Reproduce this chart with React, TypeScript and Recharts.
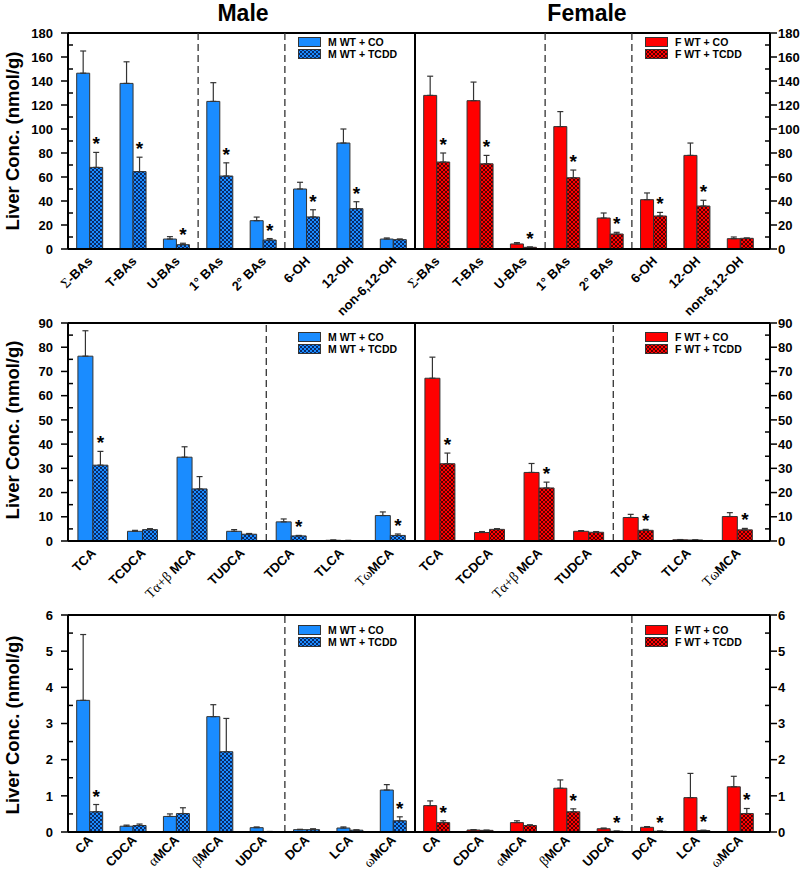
import React from 'react';
import { createPortal } from 'react-dom';
import { BarChart, Bar, XAxis, YAxis, ErrorBar, ReferenceLine, LabelList, Legend } from 'recharts';

const FONT = '"Liberation Sans", Arial, Helvetica, sans-serif';
const SERIF = '"Liberation Serif", "Times New Roman", serif';
const BLUE = '#1a8cff';
const BLUE_DARK = '#0a2a66';
const RED = '#ff0000';
const RED_DARK = '#560000';

// ---------- Row 1: bile acid groups ----------
const cats1 = ['Σ-BAs', 'T-BAs', 'U-BAs', '1° BAs', '2° BAs', '6-OH', '12-OH', 'non-6,12-OH'];
const maleCO1 = [146.5, 138, 8.3, 123, 23.6, 50, 88.3, 8.3];
const maleCOErr1 = [18.5, 18, 2, 15.6, 3, 5.6, 11.7, 0.9];
const maleTCDD1 = [68, 64.5, 3.6, 60.8, 7.5, 26.7, 33.6, 7.8];
const maleTCDDErr1 = [12.5, 12, 1.2, 11, 1.2, 6, 5.8, 0.6];
const maleSig1 = [1, 1, 1, 1, 1, 1, 1, 0];
const femaleCO1 = [128, 123.6, 4.2, 102, 25.8, 41.1, 78, 8.6];
const femaleCOErr1 = [16, 15.5, 1.1, 12.5, 4.2, 5.6, 10.3, 1.4];
const femaleTCDD1 = [72.5, 71, 1.4, 59.4, 12.5, 27.5, 35.8, 8.9];
const femaleTCDDErr1 = [7.5, 7, 0.3, 6.4, 1.4, 3, 4.8, 0.3];
const femaleSig1 = [1, 1, 1, 1, 1, 1, 1, 0];

// ---------- Row 2: taurine conjugates ----------
const cats2 = ['TCA', 'TCDCA', 'Tα+β MCA', 'TUDCA', 'TDCA', 'TLCA', 'TωMCA'];
const maleCO2 = [76.3, 4.0, 34.6, 4.0, 7.9, 0.3, 10.5];
const maleCOErr2 = [10.5, 0.4, 4.3, 0.7, 1.2, 0.1, 1.5];
const maleTCDD2 = [31.3, 4.7, 21.5, 2.8, 2.1, 0.2, 2.3];
const maleTCDDErr2 = [5.7, 0.4, 5.1, 0.3, 0.2, 0.05, 0.6];
const maleSig2 = [1, 0, 0, 0, 1, 0, 1];
const femaleCO2 = [67.2, 3.5, 28.3, 4.0, 9.7, 0.5, 10.1];
const femaleCOErr2 = [8.7, 0.4, 3.7, 0.3, 1.3, 0.1, 1.6];
const femaleTCDD2 = [31.9, 4.8, 21.9, 3.6, 4.4, 0.4, 4.6];
const femaleTCDDErr2 = [4.4, 0.3, 2.4, 0.3, 0.4, 0.05, 0.6];
const femaleSig2 = [1, 0, 1, 0, 1, 0, 1];

// ---------- Row 3: unconjugated ----------
const cats3 = ['CA', 'CDCA', 'αMCA', 'βMCA', 'UDCA', 'DCA', 'LCA', 'ωMCA'];
const maleCO3 = [3.64, 0.16, 0.43, 3.19, 0.12, 0.065, 0.11, 1.16];
const maleCOErr3 = [1.82, 0.03, 0.07, 0.33, 0.02, 0.01, 0.03, 0.15];
const maleTCDD3 = [0.56, 0.18, 0.51, 2.22, 0.01, 0.065, 0.05, 0.31];
const maleTCDDErr3 = [0.2, 0.04, 0.16, 0.92, 0.005, 0.025, 0.01, 0.11];
const maleSig3 = [1, 0, 0, 0, 0, 0, 0, 1];
const femaleCO3 = [0.73, 0.055, 0.26, 1.21, 0.09, 0.13, 0.95, 1.25];
const femaleCOErr3 = [0.13, 0.01, 0.05, 0.23, 0.02, 0.02, 0.67, 0.29];
const femaleTCDD3 = [0.26, 0.045, 0.18, 0.56, 0.02, 0.02, 0.04, 0.51];
const femaleTCDDErr3 = [0.05, 0.005, 0.02, 0.08, 0.005, 0.005, 0.01, 0.14];
const femaleSig3 = [1, 0, 0, 1, 1, 1, 1, 1];

function buildTable(cats: string[], co: number[], coErr: number[], tcdd: number[], tcddErr: number[], sig: number[]) {
  return cats.map((c, i) => ({
    cat: c,
    co: co[i],
    coErr: [0, coErr[i]],
    tcdd: tcdd[i],
    tcddErr: [0, tcddErr[i]],
    star: sig[i] ? tcddErr[i] : null,
  }));
}

const rows = [
  {
    cats: cats1, ymax: 180, major: 20, minor: 10, plotTop: 33, plotBottom: 249, xh: 60, labDy: 9,
    dashes: ['1° BAs', '6-OH'], legendY: 37, labelY: 141,
    male: buildTable(cats1, maleCO1, maleCOErr1, maleTCDD1, maleTCDDErr1, maleSig1),
    female: buildTable(cats1, femaleCO1, femaleCOErr1, femaleTCDD1, femaleTCDDErr1, femaleSig1),
  },
  {
    cats: cats2, ymax: 90, major: 10, minor: 5, plotTop: 323, plotBottom: 541, xh: 60, labDy: 9,
    dashes: ['TDCA'], legendY: 332, labelY: 430,
    male: buildTable(cats2, maleCO2, maleCOErr2, maleTCDD2, maleTCDDErr2, maleSig2),
    female: buildTable(cats2, femaleCO2, femaleCOErr2, femaleTCDD2, femaleTCDDErr2, femaleSig2),
  },
  {
    cats: cats3, ymax: 6, major: 1, minor: 0.5, plotTop: 615, plotBottom: 832, xh: 40, labDy: 5,
    dashes: ['DCA'], legendY: 625, labelY: 725,
    male: buildTable(cats3, maleCO3, maleCOErr3, maleTCDD3, maleTCDDErr3, maleSig3),
    female: buildTable(cats3, femaleCO3, femaleCOErr3, femaleTCDD3, femaleTCDDErr3, femaleSig3),
  },
];

const MT = 20;
const TS = 7;
const TM_L = 8;
const TM_R = 1;

function ticksFor(ymax: number, minor: number) {
  const out: number[] = [];
  const n = Math.round(ymax / minor);
  for (let i = 0; i <= n; i++) out.push(Math.round(i * minor * 1000) / 1000);
  return out;
}

function isMajor(v: number, major: number) {
  const r = v / major;
  return Math.abs(r - Math.round(r)) < 1e-6;
}

function YTick(props: any) {
  const { x, y, payload, major, side } = props;
  const v = payload.value;
  if (side === 'left') {
    const ax = x + TS + TM_L;
    if (isMajor(v, major)) {
      return (
        <g>
          <line x1={ax - TS} x2={ax} y1={y} y2={y} stroke="#000" strokeWidth={1.5} />
          <text x={x} y={y} dy="0.36em" textAnchor="end" fontFamily={FONT} fontWeight="bold" fontSize={13} fill="#000">{v}</text>
        </g>
      );
    }
    return <line x1={ax} x2={ax + 5} y1={y} y2={y} stroke="#000" strokeWidth={1.5} />;
  }
  const ax = x - TS - TM_R;
  if (isMajor(v, major)) {
    return (
      <g>
        <line x1={ax} x2={ax + TS} y1={y} y2={y} stroke="#000" strokeWidth={1.5} />
        <text x={x} y={y} dy="0.36em" textAnchor="start" fontFamily={FONT} fontWeight="bold" fontSize={13} fill="#000">{v}</text>
      </g>
    );
  }
  return <line x1={ax - 5} x2={ax} y1={y} y2={y} stroke="#000" strokeWidth={1.5} />;
}

const GREEK_SPLIT = /(T?[\u0391-\u03C9](?:\+[\u0391-\u03C9])?)/;
const GREEK_TEST = /[\u0391-\u03C9]/;

// Category tick label: position comes from the Recharts axis (x, y), drawn as rotated HTML in an overlay.
function XTick(props: any) {
  const { x, y, payload, overlay, labDy } = props;
  if (!overlay) return <g />;
  const px = Number(x) + 6;
  const py = Number(y) + labDy;
  const parts = String(payload.value).split(GREEK_SPLIT).filter((p) => p.length > 0);
  return (
    <g>
      {createPortal(
        <div style={{ position: 'absolute', left: px, top: py, width: 0, height: 0 }}>
          <div
            style={{
              position: 'absolute', right: 0, bottom: 0, transformOrigin: '100% 100%', transform: 'rotate(-45deg)',
              whiteSpace: 'nowrap', fontFamily: FONT, fontSize: 13, fontWeight: 'bold', lineHeight: '14px', color: '#000',
            }}
          >
            {parts.map((p, i) =>
              GREEK_TEST.test(p) ? (
                <span key={i} style={{ fontWeight: 'normal', fontFamily: SERIF, fontSize: 14 }}>{p}</span>
              ) : (
                <span key={i}>{p}</span>
              )
            )}
          </div>
        </div>,
        overlay
      )}
    </g>
  );
}

function makeStar(k: number) {
  return (props: any) => {
    const vb = props.viewBox || {};
    const x = props.x ?? vb.x;
    const y = props.y ?? vb.y;
    const width = props.width ?? vb.width;
    const value = props.value;
    if (value === null || value === undefined || value === '' || x === undefined) return null;
    const cx = Number(x) + Number(width) / 2;
    const top = Number(y) - Number(value) * k;
    return (
      <text x={cx} y={top - 2} textAnchor="middle" fontSize={19} fontWeight="bold" fontFamily={FONT} fill="#000">*</text>
    );
  };
}

function Pattern({ id, light, dark }: { id: string; light: string; dark: string }) {
  return (
    <pattern id={id} width={4} height={4} patternUnits="userSpaceOnUse">
      <rect width={4} height={4} fill={light} />
      <rect x={0} y={0} width={2} height={2} fill={dark} />
      <rect x={2} y={2} width={2} height={2} fill={dark} />
    </pattern>
  );
}

function LegendBox({ sex }: { sex: 'M' | 'F' }) {
  const fill = sex === 'M' ? BLUE : RED;
  const dark = sex === 'M' ? BLUE_DARK : RED_DARK;
  const pid = `leg-pat-${sex}`;
  return (
    <svg width={120} height={24} style={{ display: 'block', overflow: 'visible' }}>
      <defs>
        <Pattern id={pid} light={fill} dark={dark} />
      </defs>
      <rect x={0.5} y={0.5} width={22} height={9} fill={fill} stroke="#333" strokeWidth={1} />
      <text x={30} y={5} dy="0.36em" fontFamily={FONT} fontWeight="bold" fontSize={10.5} fill="#000">{`${sex} WT + CO`}</text>
      <rect x={0.5} y={12.5} width={22} height={9} fill={`url(#${pid})`} stroke="#333" strokeWidth={1} />
      <text x={30} y={17} dy="0.36em" fontFamily={FONT} fontWeight="bold" fontSize={10.5} fill="#000">{`${sex} WT + TCDD`}</text>
    </svg>
  );
}

function Panel({ row, sex, ri }: { row: any; sex: 'M' | 'F'; ri: number }) {
  const [overlay, setOverlay] = React.useState<HTMLDivElement | null>(null);
  const isM = sex === 'M';
  const data = isM ? row.male : row.female;
  const plotH = row.plotBottom - row.plotTop;
  const k = plotH / row.ymax;
  const chartTop = row.plotTop - MT;
  const height = MT + plotH + row.xh;
  const left = isM ? 0 : 415;
  const width = isM ? 416 : 385;
  const color = isM ? BLUE : RED;
  const dark = isM ? BLUE_DARK : RED_DARK;
  const pid = `pat-${sex}-${ri}`;
  const ticks = ticksFor(row.ymax, row.minor);
  const legendLeft = (isM ? 297.5 : 644.5) - left;
  const legendTop = row.legendY - chartTop;
  return (
    <div style={{ position: 'absolute', left, top: chartTop, width, height }}>
      <BarChart
        width={width}
        height={height}
        data={data}
        margin={isM ? { top: MT, right: 1, left: 30, bottom: 0 } : { top: MT, right: 0, left: 0, bottom: 0 }}
        barCategoryGap="20%"
        barGap={0}
      >
        <defs>
          <Pattern id={pid} light={color} dark={dark} />
        </defs>
        <XAxis
          dataKey="cat"
          type="category"
          interval={0}
          tickLine={false}
          tickSize={0}
          tickMargin={6}
          axisLine={{ stroke: '#000', strokeWidth: 2 }}
          height={row.xh}
          padding={isM ? { left: 0, right: 0 } : { left: 0, right: 8 }}
          tick={(p: any) => <XTick {...p} overlay={overlay} labDy={row.labDy} />}
        />
        <YAxis
          orientation={isM ? 'left' : 'right'}
          width={isM ? 38 : 30}
          domain={[0, row.ymax]}
          ticks={ticks}
          interval={0}
          tickLine={false}
          tickSize={TS}
          tickMargin={isM ? TM_L : TM_R}
          axisLine={{ stroke: '#000', strokeWidth: 2 }}
          tick={(p: any) => <YTick {...p} major={row.major} side={isM ? 'left' : 'right'} />}
        />
        <ReferenceLine y={row.ymax} stroke="#000" strokeWidth={2} />
        {!isM && <ReferenceLine x={row.cats[0]} position="start" stroke="#000" strokeWidth={2} />}
        {row.dashes.map((c: string) => (
          <ReferenceLine key={c} x={c} position="start" stroke="#333" strokeWidth={1.3} strokeDasharray="7 4" />
        ))}
        <Bar dataKey="co" fill={color} stroke="#333" strokeWidth={1} isAnimationActive={false}>
          <ErrorBar dataKey="coErr" width={3} stroke="#333" strokeWidth={1.2} isAnimationActive={false} />
        </Bar>
        <Bar dataKey="tcdd" fill={`url(#${pid})`} stroke="#333" strokeWidth={1} isAnimationActive={false}>
          <ErrorBar dataKey="tcddErr" width={3} stroke="#333" strokeWidth={1.2} isAnimationActive={false} />
          <LabelList dataKey="star" content={makeStar(k)} />
        </Bar>
        <Legend
          layout="vertical"
          align="center"
          verticalAlign="middle"
          wrapperStyle={{ position: 'absolute', left: legendLeft, top: legendTop, width: 'auto', height: 'auto' }}
          content={() => <LegendBox sex={sex} />}
        />
      </BarChart>
      <div ref={setOverlay} style={{ position: 'absolute', left: 0, top: 0, width: 0, height: 0, overflow: 'visible', pointerEvents: 'none' }} />
    </div>
  );
}

export default function App() {
  return (
    <div style={{ position: 'absolute', left: 0, top: 0, width: 800, height: 872, background: '#fff', fontFamily: FONT, overflow: 'hidden' }}>
      <style>{`.recharts-surface { overflow: visible !important; } .recharts-wrapper { overflow: visible !important; }`}</style>
      <div style={{ position: 'absolute', left: 243, top: 0, transform: 'translateX(-50%)', fontSize: 23, lineHeight: 'normal', fontWeight: 'bold', whiteSpace: 'nowrap' }}>Male</div>
      <div style={{ position: 'absolute', left: 587, top: 0, transform: 'translateX(-50%)', fontSize: 23, lineHeight: 'normal', fontWeight: 'bold', whiteSpace: 'nowrap' }}>Female</div>
      {rows.map((row, ri) => (
        <div
          key={`yl-${ri}`}
          style={{
            position: 'absolute', left: 13, top: row.labelY, transform: 'translate(-50%, -50%) rotate(-90deg)',
            fontSize: 18.5, lineHeight: 'normal', fontWeight: 'bold', whiteSpace: 'nowrap',
          }}
        >
          Liver Conc. (nmol/g)
        </div>
      ))}
      {rows.map((row, ri) => (
        <React.Fragment key={`row-${ri}`}>
          <Panel row={row} sex="M" ri={ri} />
          <Panel row={row} sex="F" ri={ri} />
        </React.Fragment>
      ))}
    </div>
  );
}
